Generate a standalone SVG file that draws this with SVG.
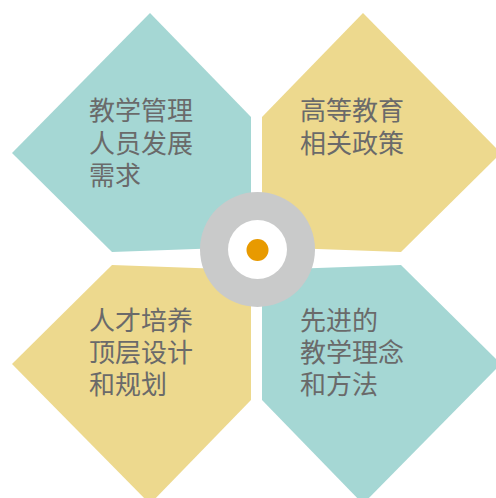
<svg xmlns="http://www.w3.org/2000/svg" width="496" height="498" viewBox="0 0 496 498">
  <style>
    .teal { fill: #A5D7D4; }
    .gold { fill: #EDD98E; }
    .lbl { font-family: "Noto Sans CJK SC", "Noto Sans", sans-serif; font-size: 26px; fill: #6A6A6A; }
  </style>
  <rect width="496" height="498" fill="#FFFFFF"/>
  <g id="node-tl">
    <polygon class="teal" points="150,13 251,117 251,247 112,252 12,153"/>
    <text class="lbl"><tspan x="89" y="120">教学管理</tspan><tspan x="89" y="153">人员发展</tspan><tspan x="89" y="185">需求</tspan></text>
  </g>
  <g id="node-tr">
    <polygon class="gold" points="363,13 262,117 262,247 401,252 501,153"/>
    <text class="lbl"><tspan x="300" y="120">高等教育</tspan><tspan x="300" y="153">相关政策</tspan></text>
  </g>
  <g id="node-bl">
    <polygon class="gold" points="150,504 251,400 251,270 112,265 12,364"/>
    <text class="lbl"><tspan x="89" y="330">人才培养</tspan><tspan x="89" y="362">顶层设计</tspan><tspan x="89" y="394">和规划</tspan></text>
  </g>
  <g id="node-br">
    <polygon class="teal" points="363,504 262,400 262,270 401,265 501,364"/>
    <text class="lbl"><tspan x="300" y="330">先进的</tspan><tspan x="300" y="362">教学理念</tspan><tspan x="300" y="394">和方法</tspan></text>
  </g>
  <g id="node-center">
    <circle cx="257.5" cy="249.5" r="57.5" fill="#C9CACA"/>
    <circle cx="257.5" cy="249.5" r="29.5" fill="#FFFFFF"/>
    <circle cx="257.5" cy="250" r="11" fill="#E89A00"/>
  </g>
  <g id="connectors"></g>
</svg>
